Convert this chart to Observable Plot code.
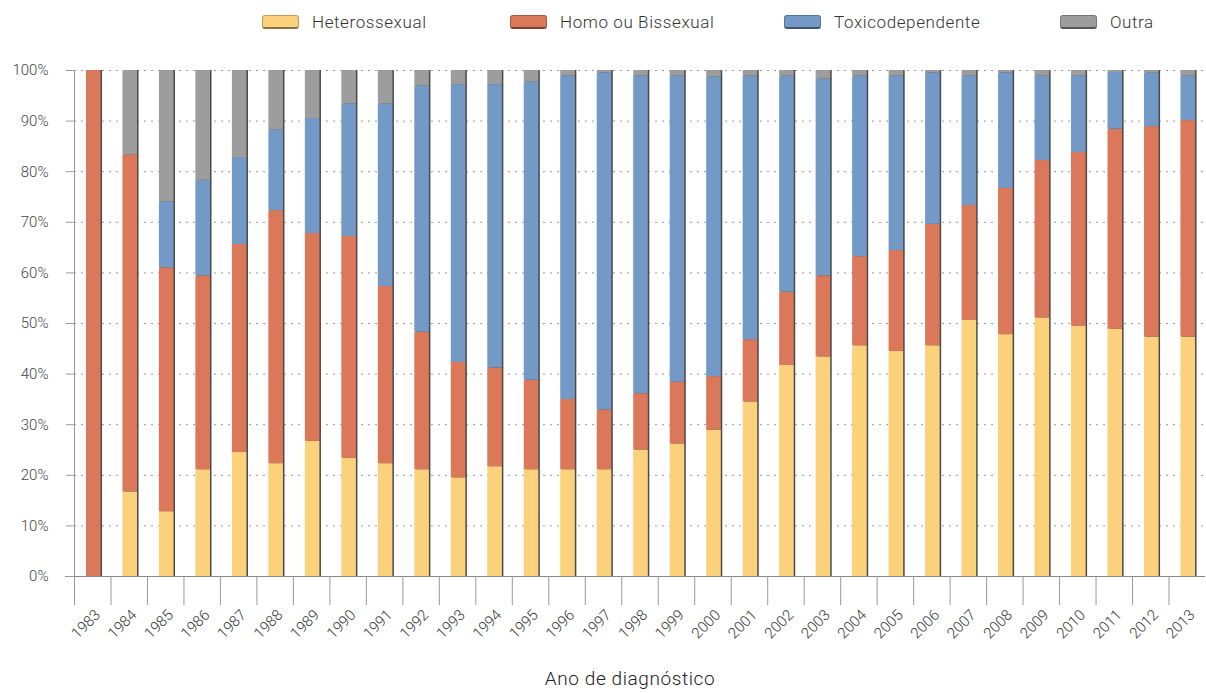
<!DOCTYPE html>
<html>
<head>
<meta charset="utf-8">
<script src="https://cdn.jsdelivr.net/npm/d3@7"></script>
<script src="https://cdn.jsdelivr.net/npm/@observablehq/plot@0.6"></script>
<style>
  html, body { margin: 0; padding: 0; background: #fff; }
  body { width: 1206px; height: 693px; overflow: hidden; font-family: Roboto, "Liberation Sans", sans-serif; font-weight: 300; color: #333; }
  #legend { position: relative; height: 40px; }
  .item { position: absolute; top: 12px; display: flex; align-items: center; font-size: 17px; letter-spacing: 0.6px; }
  .sw { width: 37px; height: 14px; border-radius: 3px; margin-right: 13px; box-sizing: border-box; border: 1px solid rgba(0,0,0,0.25); border-bottom: 2px solid rgba(0,0,0,0.45); }
  #caption { height: 43px; text-align: left; position: relative; }
  #caption span { position: absolute; left: 0; width: 1260px; text-align: center; top: 17px; font-size: 19px; letter-spacing: 0.6px; color: #222; }
</style>
</head>
<body>
<div id="legend"></div>
<div id="chart"></div>
<div id="caption"><span>Ano de diagnóstico</span></div>
<script>
const years = ["1983","1984","1985","1986","1987","1988","1989","1990","1991","1992","1993","1994","1995","1996","1997","1998","1999","2000","2001","2002","2003","2004","2005","2006","2007","2008","2009","2010","2011","2012","2013"];
const categories = ["Heterossexual", "Homo ou Bissexual", "Toxicodependente", "Outra"];
const colors = ["#FBD27B", "#DC785A", "#7399C7", "#9D9D9D"];
const hetero = [0,16.7,12.8,21.1,24.5,22.3,26.7,23.4,22.3,21.1,19.5,21.7,21.1,21.1,21.1,25.0,26.2,28.9,34.5,41.7,43.4,45.6,44.5,45.6,50.6,47.8,51.1,49.5,48.9,47.3,47.3];
const homo = [100,66.6,48.2,38.3,41.1,50.0,41.1,43.8,35.0,27.2,22.8,19.5,17.7,13.9,11.8,11.1,12.2,10.6,12.3,14.5,16.0,17.6,19.9,24.0,22.7,28.9,31.1,34.3,39.5,41.6,42.8];
const toxico = [0,0,13.0,18.9,17.2,16.0,22.7,26.2,36.1,48.6,54.9,56.0,58.9,63.9,66.6,62.8,60.5,59.2,52.1,42.7,38.9,35.7,34.5,29.9,25.6,22.8,16.7,15.1,11.2,10.6,8.8];
const outra = [0,16.7,26.0,21.7,17.2,11.7,9.5,6.6,6.6,3.1,2.8,2.8,2.3,1.1,0.5,1.1,1.1,1.3,1.1,1.1,1.7,1.1,1.1,0.5,1.1,0.5,1.1,1.1,0.4,0.5,1.1];
const yTicks = [0,10,20,30,40,50,60,70,80,90,100];

const series = [hetero, homo, toxico, outra];
const data = [];
years.forEach((y, i) => {
  series.forEach((s, k) => data.push({year: y, cat: categories[k], value: s[i]}));
});

// legend
const legendLeft = [262, 510, 784, 1060];
const legend = document.getElementById("legend");
categories.forEach((c, k) => {
  const it = document.createElement("div");
  it.className = "item";
  it.style.left = legendLeft[k] + "px";
  it.innerHTML = `<span class="sw" style="background:${colors[k]}"></span><span>${c}</span>`;
  legend.appendChild(it);
});

const W = 1206, mL = 74, mR = 1;
const step = (W - mL - mR) / years.length;

const chart = Plot.plot({
  width: W,
  height: 610,
  marginTop: 30,
  marginBottom: 74,
  marginLeft: mL,
  marginRight: mR,
  style: {fontFamily: "Roboto, 'Liberation Sans', sans-serif", fontWeight: 300, color: "#333", background: "#fff"},
  x: {domain: years, paddingInner: 0.6, paddingOuter: 0.3, round: false, label: null},
  y: {domain: [0, 100], label: null},
  color: {domain: categories, range: colors},
  marks: [
    Plot.gridY(yTicks, {stroke: "#999", strokeOpacity: 1, strokeDasharray: "2,5", strokeWidth: 1}),
    Plot.frame({anchor: "left", stroke: "#999"}),
    Plot.barY(years, {x: d => d, y: years.map(() => 100), fill: "#4a4a4a", dx: 2.5}),
    Plot.barY(data, {x: "year", y: "value", fill: "cat", dx: 1, order: categories}),
    Plot.ruleY([0], {stroke: "#888", insetLeft: -9}),
    Plot.ruleX(years, {x: d => d, y1: 0, y2: 0, insetBottom: -29, dx: -step / 2, stroke: "#999"}),
    Plot.axisY(yTicks, {tickSize: 8, tickPadding: 18, tickFormat: d => d + "%", fontSize: 15, stroke: "#999", fill: "#444", label: null}),
    Plot.axisX({tickSize: 0, tickPadding: 36, tickRotate: -45, fontSize: 15, dx: 5, fill: "#333", label: null})
  ]
});
document.getElementById("chart").appendChild(chart);
</script>
</body>
</html>
